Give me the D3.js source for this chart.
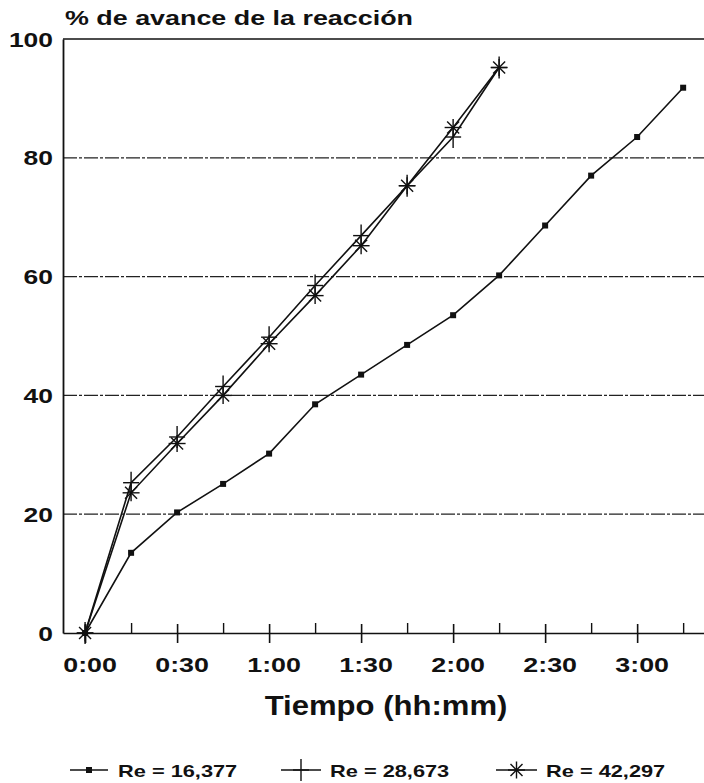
<!DOCTYPE html>
<html>
<head>
<meta charset="utf-8">
<script src="https://cdn.jsdelivr.net/npm/d3@7"></script>
<style>
  html, body { margin: 0; padding: 0; background: #fff; }
  svg { display: block; }
  text { font-family: "Liberation Sans", Arial, sans-serif; font-weight: bold; fill: #111; }
</style>
</head>
<body>
<svg id="chart" width="704" height="783"></svg>
<script>
// ---- data (minutes since start, % reaction progress) ----
const timeMin   = [0, 15, 30, 45, 60, 75, 90, 105, 120, 135, 150, 165, 180, 195];
const re16377   = [0, 13.5, 20.3, 25.1, 30.2, 38.5, 43.5, 48.5, 53.5, 60.2, 68.6, 77.0, 83.5, 91.8];
const re28673   = [0, 25.3, 33.0, 41.5, 49.8, 58.5, 66.9, 75.3, 83.5, 95.2];
const re42297   = [0, 23.6, 31.9, 40.0, 48.7, 56.8, 65.2, 75.3, 85.1, 95.2];
const seriesNames = ["Re = 16,377", "Re = 28,673", "Re = 42,297"];
const xMajorTicks = [0, 30, 60, 90, 120, 150, 180];
const xTickLabels = ["0:00", "0:30", "1:00", "1:30", "2:00", "2:30", "3:00"];
const xMinorTicks = [15, 45, 75, 105, 135, 165, 195];
const yTicks = [0, 20, 40, 60, 80, 100];
const yGrid = [20, 40, 60, 80];
const titleText = "% de avance de la reacción";
const xTitle = "Tiempo (hh:mm)";

// ---- layout ----
const svg = d3.select("#chart");
const x = d3.scaleLinear().domain([-7.2, 201.8]).range([63, 704]);
const y = d3.scaleLinear().domain([0, 100]).range([633, 39]);

// helper for horizontally stretched text (wide plotter font)
function wideText(g, tx, ty, str, size, sx, anchor) {
  const grp = g.append("g").attr("transform", `translate(${tx},${ty}) scale(${sx},1)`);
  grp.append("text").attr("x", 0).attr("y", 0)
    .attr("font-size", size).attr("text-anchor", anchor || "start").text(str);
  return grp;
}

// gridlines
svg.append("g").selectAll("line").data(yGrid).join("line")
  .attr("x1", x.range()[0]).attr("x2", x.range()[1])
  .attr("y1", d => y(d)).attr("y2", d => y(d))
  .attr("stroke", "#222").attr("stroke-width", 1.2)
  .attr("stroke-dasharray", "14,2,3,2");

// top frame line at 100
svg.append("line")
  .attr("x1", x.range()[0]).attr("x2", x.range()[1])
  .attr("y1", y(100)).attr("y2", y(100))
  .attr("stroke", "#111").attr("stroke-width", 1.6);

// y axis line
const yAxis = d3.axisLeft(y).tickValues(yTicks).tickSize(0).tickFormat("");
const gy = svg.append("g").attr("transform", `translate(${x.range()[0]},0)`).call(yAxis);
gy.select(".domain").attr("stroke", "#111").attr("stroke-width", 1.8);

// y tick labels
yTicks.forEach(v => wideText(svg, 53, y(v) + 7.5, String(v), 20.5, 1.29, "end"));

// x axis: major ticks crossing axis
const xAxisMajor = d3.axisBottom(x).tickValues(xMajorTicks).tickSize(10).tickSizeOuter(0).tickFormat("");
const gx = svg.append("g").attr("transform", `translate(0,${y(0)})`).call(xAxisMajor);
gx.select(".domain").attr("stroke", "#111").attr("stroke-width", 1.6);
gx.selectAll(".tick line").attr("y1", -9).attr("y2", 10).attr("stroke", "#111").attr("stroke-width", 1.6);

// minor ticks above axis
const xAxisMinor = d3.axisTop(x).tickValues(xMinorTicks).tickSize(10).tickSizeOuter(0).tickFormat("");
const gxm = svg.append("g").attr("transform", `translate(0,${y(0)})`).call(xAxisMinor);
gxm.select(".domain").remove();
gxm.selectAll(".tick line").attr("stroke", "#111").attr("stroke-width", 1.4);

// x tick labels
xMajorTicks.forEach((v, i) => wideText(svg, x(v) + 5, 672, xTickLabels[i], 20.5, 1.31, "middle"));

// titles
wideText(svg, 65, 25, titleText, 21, 1.28, "start");
wideText(svg, 386, 715, xTitle, 27.5, 1.13, "middle");

// ---- series ----
const line = d3.line().x(d => x(d[0])).y(d => y(d[1]));
const s1 = re16377.map((v, i) => [timeMin[i], v]);
const s2 = re28673.map((v, i) => [timeMin[i], v]);
const s3 = re42297.map((v, i) => [timeMin[i], v]);

[s1, s2, s3].forEach(s => {
  svg.append("path").datum(s).attr("d", line)
    .attr("fill", "none").attr("stroke", "#111").attr("stroke-width", 1.6);
});

function drawSquare(g, cx, cy) {
  g.append("rect").attr("x", cx - 3).attr("y", cy - 3).attr("width", 6).attr("height", 6).attr("fill", "#111");
}
function drawPlus(g, cx, cy) {
  g.append("line").attr("x1", cx - 8).attr("x2", cx + 8).attr("y1", cy).attr("y2", cy)
    .attr("stroke", "#111").attr("stroke-width", 1.4);
  g.append("line").attr("x1", cx).attr("x2", cx).attr("y1", cy - 11).attr("y2", cy + 11)
    .attr("stroke", "#111").attr("stroke-width", 1.4);
}
function drawStar(g, cx, cy) {
  const r = 8.5;
  [0, 45, 90, 135].forEach(a => {
    const rad = a * Math.PI / 180;
    g.append("line")
      .attr("x1", cx - r * Math.cos(rad)).attr("y1", cy - r * Math.sin(rad))
      .attr("x2", cx + r * Math.cos(rad)).attr("y2", cy + r * Math.sin(rad))
      .attr("stroke", "#111").attr("stroke-width", 1.4);
  });
}

const mk = svg.append("g");
s1.forEach(d => drawSquare(mk, x(d[0]), y(d[1])));
s2.forEach(d => drawPlus(mk, x(d[0]), y(d[1])));
s3.forEach(d => drawStar(mk, x(d[0]), y(d[1])));

// ---- legend ----
const legendItems = [
  { lx1: 70, lx2: 108, tx: 118, draw: drawSquare },
  { lx1: 281, lx2: 321, tx: 330, draw: drawPlus },
  { lx1: 496, lx2: 537, tx: 546, draw: drawStar }
];
const lg = svg.append("g");
const ly = 770;
legendItems.forEach((it, i) => {
  lg.append("line").attr("x1", it.lx1).attr("x2", it.lx2).attr("y1", ly).attr("y2", ly)
    .attr("stroke", "#111").attr("stroke-width", 1.6);
  it.draw(lg, (it.lx1 + it.lx2) / 2, ly);
  wideText(lg, it.tx, 777, seriesNames[i], 16.5, 1.32, "start");
});
</script>
</body>
</html>
